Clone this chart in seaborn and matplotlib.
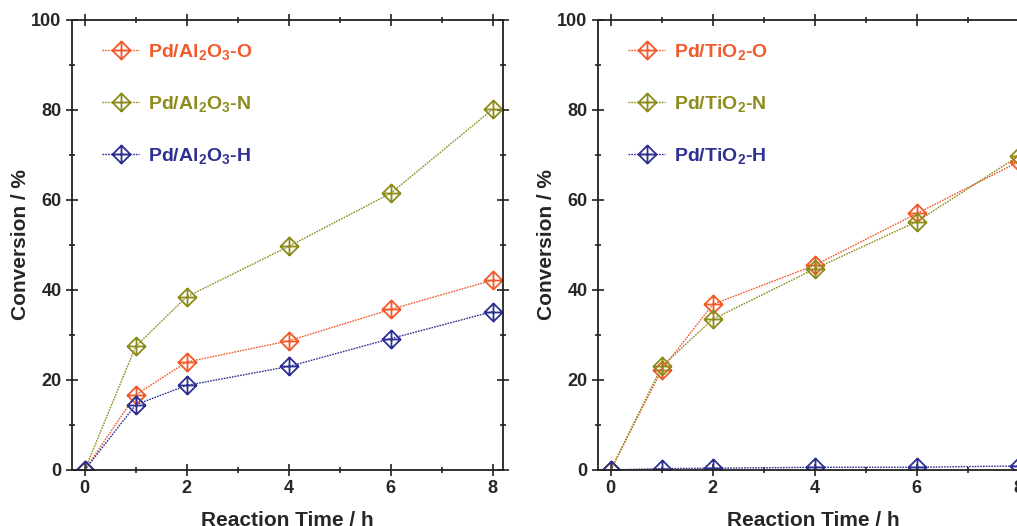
import numpy as np
import pandas as pd
import matplotlib
matplotlib.use("Agg")
import matplotlib.pyplot as plt
from matplotlib.path import Path
import seaborn as sns

# data
hours = [0, 1, 2, 4, 6, 8]

al_o = [0, 16.7, 24.0, 28.7, 35.7, 42.2]
al_n = [0, 27.5, 38.5, 49.7, 61.5, 80.2]
al_h = [0, 14.5, 18.8, 23.0, 29.2, 35.2]

ti_o = [0, 22.3, 36.8, 45.5, 57.0, 68.5]
ti_n = [0, 23.0, 33.5, 44.7, 55.2, 69.8]
ti_h = [0, 0.3, 0.4, 0.6, 0.6, 0.9]

al_labels = ['Pd/Al$_2$O$_3$-O', 'Pd/Al$_2$O$_3$-N', 'Pd/Al$_2$O$_3$-H']
ti_labels = ['Pd/TiO$_2$-O', 'Pd/TiO$_2$-N', 'Pd/TiO$_2$-H']
colors = ['#F15A2B', '#8E8C1C', '#2E3192']

sns.set_style("ticks")
plt.rcParams['font.family'] = ['Liberation Sans', 'DejaVu Sans']
plt.rcParams['font.weight'] = 'bold'
plt.rcParams['axes.labelweight'] = 'bold'
plt.rcParams['mathtext.fontset'] = 'custom'
plt.rcParams['mathtext.rm'] = 'Liberation Sans:bold'
plt.rcParams['mathtext.bf'] = 'Liberation Sans:bold'
plt.rcParams['mathtext.default'] = 'bf'

# diamond with a cross inside
verts = [(0, 0.5), (0.5, 0), (0, -0.5), (-0.5, 0), (0, 0.5),
         (0, 0.5), (0, -0.5), (-0.5, 0), (0.5, 0)]
codes = [Path.MOVETO, Path.LINETO, Path.LINETO, Path.LINETO, Path.CLOSEPOLY,
         Path.MOVETO, Path.LINETO, Path.MOVETO, Path.LINETO]
dmark = Path(verts, codes)

fig = plt.figure(figsize=(10.17, 5.26), dpi=100)
ax1 = fig.add_axes([0.0708, 0.1065, 0.4238, 0.8555])
ax2 = fig.add_axes([0.588, 0.1065, 0.4238, 0.8555])


def panel(ax, series, labels):
    for vals, lab, c in zip(series, labels, colors):
        df = pd.DataFrame({'t': hours, 'conv': vals})
        sns.lineplot(data=df, x='t', y='conv', ax=ax, color=c, label=lab,
                     linestyle=(0, (1.2, 0.8)), linewidth=1.0,
                     marker=dmark, markersize=13, markerfacecolor='none',
                     markeredgecolor=c, markeredgewidth=1.3)
    ax.set_xlim(-0.25, 8.2)
    ax.set_ylim(0, 100)
    ax.set_xticks([0, 2, 4, 6, 8])
    ax.set_xticks([1, 3, 5, 7], minor=True)
    ax.set_yticks([0, 20, 40, 60, 80, 100])
    ax.set_yticks([10, 30, 50, 70, 90], minor=True)
    ax.tick_params(which='both', direction='inout', top=True, right=True,
                   labelsize=13, width=1.2, color='#222222')
    ax.tick_params(which='major', length=8)
    ax.tick_params(which='minor', length=5)
    for s in ax.spines.values():
        s.set_linewidth(1.3)
        s.set_color('#222222')
    ax.set_xlabel('Reaction Time / h', fontsize=15, labelpad=10)
    ax.set_ylabel('Conversion / %', fontsize=15, labelpad=1)
    leg = ax.legend(loc='upper left', bbox_to_anchor=(0.03, 0.99), frameon=False,
                    fontsize=14, labelspacing=1.65, handlelength=1.9,
                    handletextpad=0.45)
    for txt, c in zip(leg.get_texts(), colors):
        txt.set_color(c)


panel(ax1, [al_o, al_n, al_h], al_labels)
panel(ax2, [ti_o, ti_n, ti_h], ti_labels)

fig.savefig('out.png', dpi=100)
